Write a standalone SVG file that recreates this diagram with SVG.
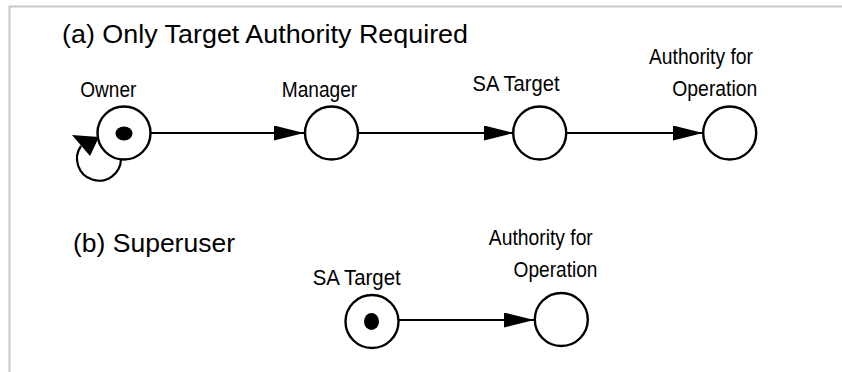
<svg xmlns="http://www.w3.org/2000/svg" width="842" height="372" viewBox="0 0 842 372">
  <defs>
    <marker id="head" viewBox="0 0 30 15" refX="30" refY="7.5" markerWidth="30" markerHeight="15" markerUnits="userSpaceOnUse" orient="auto">
      <path d="M0,0 L30,7.5 L0,15 Z" fill="#000"/>
    </marker>
    <style>
      .frame { fill: none; stroke: #c8c8c8; stroke-width: 2; }
      .title { font-family: "Liberation Sans", Arial, sans-serif; font-size: 26px; fill: #000; }
      .label { font-family: "Liberation Sans", Arial, sans-serif; font-size: 22.5px; fill: #000; }
      .state { fill: #fff; stroke: #000; stroke-width: 2.4; }
      .token { fill: #000; }
      .edge { fill: none; stroke: #000; stroke-width: 2.2; marker-end: url(#head); }
      .loop { fill: none; stroke: #000; stroke-width: 2.2; }
    </style>
  </defs>

  <rect width="842" height="372" fill="#fff"/>
  <path class="frame" d="M9.5,372 V6.5 H842"/>

  <text class="title" x="62" y="43" textLength="406" lengthAdjust="spacingAndGlyphs">(a) Only Target Authority Required</text>
  <text class="title" x="73" y="252" textLength="162" lengthAdjust="spacingAndGlyphs">(b) Superuser</text>

  <g id="connectors">
    <line class="edge" x1="151" y1="133" x2="304" y2="133"/>
    <line class="edge" x1="358" y1="133" x2="514" y2="133"/>
    <line class="edge" x1="566" y1="133" x2="703" y2="133"/>
    <path class="loop" d="M121,159 A22,22 0 1 1 81,146"/>
    <path d="M72,135 L99,137 L90,156 Z" fill="#000"/>
    <line class="edge" x1="398" y1="320" x2="534" y2="320"/>
  </g>

  <g id="owner">
    <circle class="state" cx="124" cy="133" r="26.5"/>
    <ellipse class="token" cx="124" cy="133.5" rx="8.5" ry="7"/>
    <text class="label" x="108.3" y="96.7" text-anchor="middle" textLength="56" lengthAdjust="spacingAndGlyphs">Owner</text>
  </g>

  <g id="manager">
    <circle class="state" cx="331.5" cy="133" r="26.5"/>
    <text class="label" x="319.5" y="96.7" text-anchor="middle" textLength="75.5" lengthAdjust="spacingAndGlyphs">Manager</text>
  </g>

  <g id="sa-target-a">
    <circle class="state" cx="539.7" cy="133" r="26.5"/>
    <text class="label" x="516" y="90.7" text-anchor="middle" textLength="87" lengthAdjust="spacingAndGlyphs">SA Target</text>
  </g>

  <g id="authority-a">
    <circle class="state" cx="729.7" cy="133" r="26.5"/>
    <text class="label" x="701" y="64" text-anchor="middle" textLength="104" lengthAdjust="spacingAndGlyphs">Authority for</text>
    <text class="label" x="714.8" y="95.7" text-anchor="middle" textLength="85" lengthAdjust="spacingAndGlyphs">Operation</text>
  </g>

  <g id="sa-target-b">
    <circle class="state" cx="372" cy="321.5" r="26.5"/>
    <ellipse class="token" cx="371.5" cy="321.5" rx="7.5" ry="8.5"/>
    <text class="label" x="356.7" y="285" text-anchor="middle" textLength="88" lengthAdjust="spacingAndGlyphs">SA Target</text>
  </g>

  <g id="authority-b">
    <circle class="state" cx="561.3" cy="319.5" r="26.5"/>
    <text class="label" x="540.8" y="245" text-anchor="middle" textLength="104" lengthAdjust="spacingAndGlyphs">Authority for</text>
    <text class="label" x="555.5" y="277.3" text-anchor="middle" textLength="84" lengthAdjust="spacingAndGlyphs">Operation</text>
  </g>
</svg>
